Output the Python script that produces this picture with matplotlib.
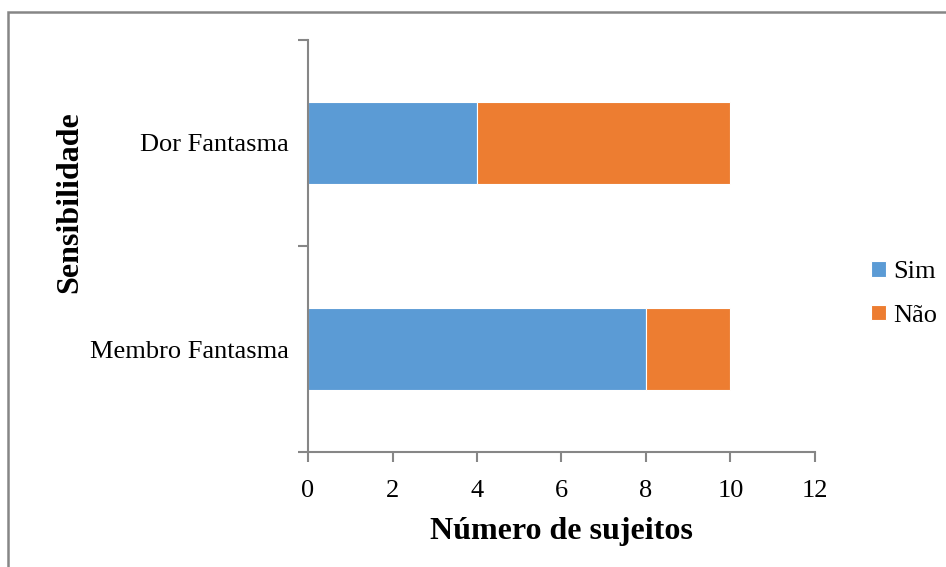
import matplotlib.pyplot as plt
from matplotlib.patches import Rectangle

categorias = ["Membro Fantasma", "Dor Fantasma"]
sim = [8, 4]
nao = [2, 6]
x_ticks = [0, 2, 4, 6, 8, 10, 12]

azul = "#5B9BD5"
laranja = "#ED7D31"
cinza = "#868686"

plt.rcParams["font.family"] = ["Liberation Serif", "DejaVu Serif"]

fig = plt.figure(figsize=(9.46, 5.67), dpi=100)
ax = fig.add_axes([0.3256, 0.2028, 0.5359, 0.7267])

y = list(range(len(categorias)))
ax.barh(y, sim, height=0.4, color=azul, edgecolor="white", linewidth=0.8, label="Sim")
ax.barh(y, nao, left=sim, height=0.4, color=laranja, edgecolor="white", linewidth=0.8, label="Não")

ax.set_xlim(0, 12)
ax.set_ylim(-0.5, 1.5)
ax.set_xticks(x_ticks)
ax.set_xticklabels([str(v) for v in x_ticks], fontsize=19)

# categorias no meio, traços nas divisões
ax.set_yticks(y)
ax.set_yticklabels(categorias, fontsize=19)
ax.set_yticks([-0.5, 0.5, 1.5], minor=True)
ax.tick_params(axis="y", which="major", length=0, pad=14)
ax.tick_params(axis="y", which="minor", length=7, width=1.5, color=cinza, direction="out")
ax.tick_params(axis="x", length=7, width=1.5, color=cinza, direction="out", pad=13)

for s in ["top", "right"]:
    ax.spines[s].set_visible(False)
for s in ["left", "bottom"]:
    ax.spines[s].set_color(cinza)
    ax.spines[s].set_linewidth(1.5)

ax.set_xlabel("Número de sujeitos", fontsize=23, fontweight="bold", labelpad=11)
fig.text(70 / 946, 1 - 202 / 567, "Sensibilidade", rotation=90, fontsize=23,
         fontweight="bold", ha="center", va="center")

ax.legend(loc="center left", bbox_to_anchor=(871 / 946, 1 - 294 / 567),
          bbox_transform=fig.transFigure, frameon=False, borderpad=0,
          borderaxespad=0, fontsize=19, handlelength=0.55, handleheight=0.55,
          handletextpad=0.3, labelspacing=0.8)

# moldura da área do gráfico
fig.patches.append(Rectangle((8 / 946, -0.1), 1.2, 1 - 12 / 567 + 0.1,
                             transform=fig.transFigure, fill=False,
                             edgecolor=cinza, linewidth=1.8))

fig.savefig("out.png", dpi=100)
